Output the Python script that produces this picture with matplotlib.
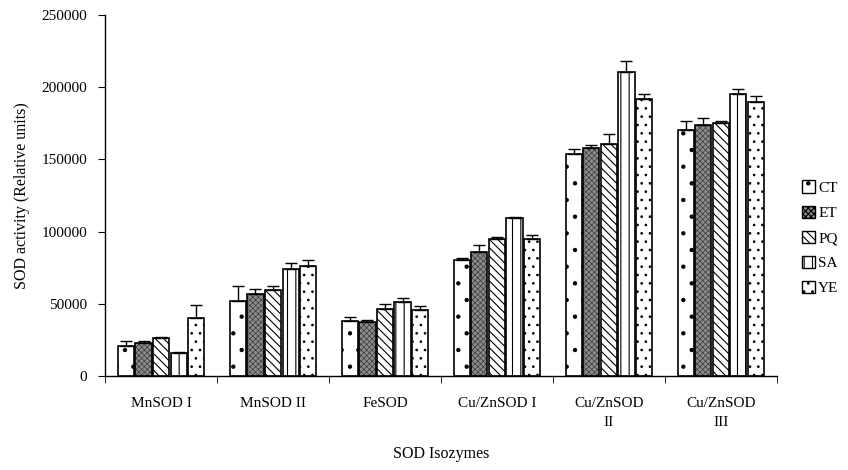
import matplotlib
matplotlib.use("Agg")
import matplotlib.pyplot as plt
import numpy as np

plt.rcParams['font.family'] = ['Liberation Serif', 'DejaVu Serif']
plt.rcParams['hatch.linewidth'] = 0.8

categories = ["MnSOD I", "MnSOD II", "FeSOD", "Cu/ZnSOD I", "Cu/ZnSOD\nII", "Cu/ZnSOD\nIII"]
series = ["CT", "ET", "PQ", "SA", "YE"]

ct = [20500, 52000, 38000, 80000, 154000, 170500]
et = [23000, 57000, 37500, 86000, 158000, 174000]
pq = [26500, 59500, 46500, 95000, 161000, 175500]
sa = [16000, 74000, 51000, 109500, 210500, 195000]
ye = [40500, 76000, 45500, 95000, 192000, 190000]

ct_err = [4000, 10000, 3000, 2000, 3000, 6000]
et_err = [1500, 3000, 1500, 4500, 2000, 4500]
pq_err = [800, 3000, 3500, 1000, 6500, 1000]
sa_err = [300, 4000, 3000, 500, 7500, 4000]
ye_err = [9000, 4500, 3000, 2500, 3500, 4000]

values = [ct, et, pq, sa, ye]
errors = [ct_err, et_err, pq_err, sa_err, ye_err]
hatches = ['.', 'xxxxxx', '\\\\\\\\', '||', '..']
faces = ['white', '#8c8c8c', 'white', 'white', 'white']
hatch_cols = ['black', '#3a3a3a', 'black', 'black', 'black']
hatch_lw = [0.7, 0.5, 0.8, 0.8, 0.7]

fig = plt.figure(figsize=(8.48, 4.70), dpi=100)
ax = fig.add_axes([0.124, 0.2, 0.792, 0.768])

x = np.arange(len(categories))
step = 0.157
w = 0.145
handles = []
for i, (vals, errs) in enumerate(zip(values, errors)):
    pos = x + (i - 2) * step
    # hatch layer
    hb = ax.bar(pos, vals, w, color=faces[i], edgecolor=hatch_cols[i], linewidth=0,
                hatch=hatches[i], zorder=2)
    for p in hb:
        if hasattr(p, 'set_hatch_linewidth'):
            p.set_hatch_linewidth(hatch_lw[i])
    # outline layer
    ax.bar(pos, vals, w, fill=False, edgecolor='black', linewidth=1.2, zorder=3)
    ax.errorbar(pos, vals, yerr=[np.zeros(len(errs)), errs], fmt='none',
                ecolor='black', elinewidth=1.0, capsize=4, capthick=1.0, zorder=4)
    h = plt.Rectangle((0, 0), 1, 1, facecolor=faces[i], edgecolor='black',
                      hatch=hatches[i], linewidth=1.0)
    handles.append(h)

ax.set_xlim(-0.5, len(categories) - 0.5)
ax.set_ylim(0, 250000)
ax.set_yticks(np.arange(0, 250001, 50000))
ax.set_xticks(x)
ax.set_xticklabels(categories, fontsize=11, linespacing=1.6)
ax.set_xticks(np.arange(-0.5, len(categories), 1), minor=True)
ax.tick_params(axis='x', which='major', length=0, pad=15)
ax.tick_params(axis='x', which='minor', length=5, direction='out')
ax.tick_params(axis='y', length=5, direction='out', labelsize=11, pad=8)
for s in ['left', 'bottom']:
    ax.spines[s].set_linewidth(1.0)
ax.spines['top'].set_visible(False)
ax.spines['right'].set_visible(False)
ax.set_ylabel("SOD activity (Relative units)", fontsize=11.5)
ax.yaxis.set_label_coords(-0.112, 0.5)
ax.set_xlabel("SOD Isozymes", fontsize=11.5)
ax.xaxis.set_label_coords(0.5, -0.195)

leg = fig.legend(handles=handles, labels=series, loc='center left',
                 bbox_to_anchor=(0.946, 0.494), frameon=False, fontsize=11,
                 handlelength=0.85, handleheight=0.85, handletextpad=0.2,
                 labelspacing=0.7, borderpad=0, borderaxespad=0)

fig.savefig("out.png", dpi=100)
